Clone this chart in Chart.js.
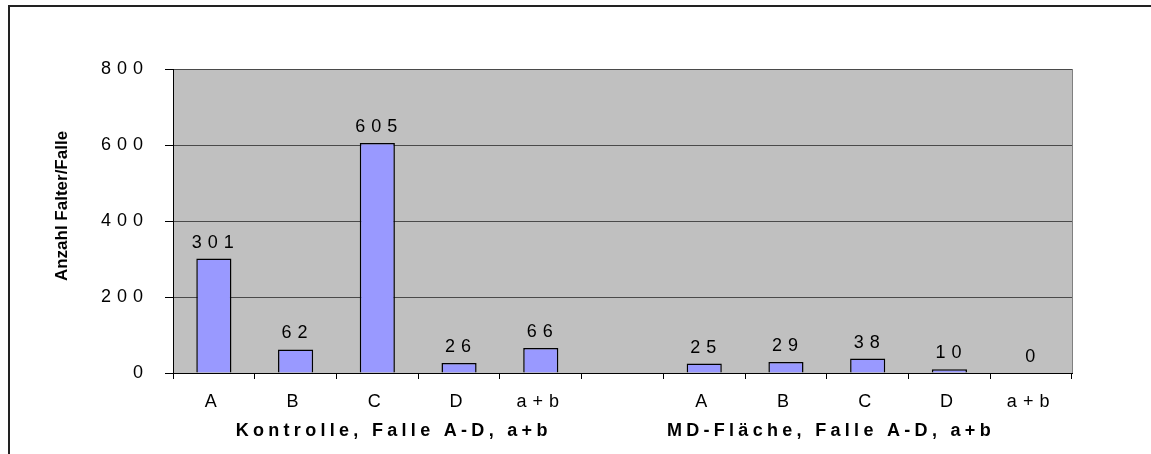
<!DOCTYPE html>
<html>
<head>
<meta charset="utf-8">
<script src="https://cdn.jsdelivr.net/npm/chart.js@4"></script>
<style>
  html, body { margin: 0; padding: 0; background: #fff; overflow: hidden; }
  #wrap { position: relative; width: 1151px; height: 454px; }
  #frame { position: absolute; left: 8px; top: 5px; width: 1200px; height: 500px;
           border: 2px solid #222; box-sizing: border-box; pointer-events: none; }
</style>
</head>
<body>
<div id="wrap">
  <canvas id="myChart-bar" width="1151" height="454"></canvas>
  <div id="frame"></div>
</div>
<script>
var categories = ['A', 'B', 'C', 'D', 'a+b', '', 'A', 'B', 'C', 'D', 'a+b'];
var counts = [301, 62, 605, 26, 66, null, 25, 29, 38, 10, 0];
var yTicks = [0, 200, 400, 600, 800];
var groupTitles = ['Kontrolle, Falle A-D, a+b', 'MD-Fläche, Falle A-D, a+b'];
var yTitle = 'Anzahl Falter/Falle';

var FONT = '"Liberation Sans", Arial, sans-serif';
var SP = 6; // wide Excel-like letter spacing

var spacing = {
    id: 'spacing',
    beforeLayout: function (chart) { chart.ctx.letterSpacing = SP + 'px'; },
    beforeDraw: function (chart) {
        var ctx = chart.ctx, a = chart.chartArea;
        ctx.letterSpacing = SP + 'px';
        ctx.save();
        ctx.fillStyle = '#c0c0c0';
        ctx.fillRect(a.left, a.top, a.right - a.left, a.bottom - a.top);
        ctx.strokeStyle = '#808080';
        ctx.lineWidth = 1;
        ctx.beginPath();
        ctx.moveTo(a.right + 0.5, a.top);
        ctx.lineTo(a.right + 0.5, a.bottom);
        ctx.stroke();
        ctx.restore();
    }
};

var labels = {
    id: 'labels',
    afterDatasetsDraw: function (chart) {
        var ctx = chart.ctx;
        var meta = chart.getDatasetMeta(0);
        ctx.save();
        ctx.letterSpacing = SP + 'px';
        ctx.font = '18px ' + FONT;
        ctx.fillStyle = '#000';
        ctx.textAlign = 'center';
        ctx.textBaseline = 'alphabetic';
        meta.data.forEach(function (bar, i) {
            if (counts[i] === null) return;
            ctx.fillText(String(counts[i]), bar.x + SP / 2 - 1, bar.y - 11);
        });
        ctx.restore();
    },
    afterDraw: function (chart) {
        var ctx = chart.ctx, x = chart.scales.x;
        ctx.save();
        // group titles under the category labels
        ctx.font = 'bold 18px ' + FONT;
        ctx.letterSpacing = '4.3px';
        ctx.fillStyle = '#000';
        ctx.textAlign = 'center';
        ctx.textBaseline = 'middle';
        ctx.fillText(groupTitles[0], x.getPixelForValue(2.2), 431);
        ctx.fillText(groupTitles[1], x.getPixelForValue(7.55), 431);
        // y axis title
        ctx.letterSpacing = '0px';
        ctx.font = 'bold 17px ' + FONT;
        ctx.translate(62, 206);
        ctx.rotate(-Math.PI / 2);
        ctx.fillText(yTitle, 0, 0);
        ctx.restore();
    }
};

var ctx = document.getElementById('myChart-bar');

new Chart(ctx, {
    type: 'bar',
    data: {
        labels: categories,
        datasets: [{
            data: counts,
            backgroundColor: '#9999ff',
            borderColor: '#000',
            borderWidth: 1.5,
            barPercentage: 0.43,
            categoryPercentage: 1
        }]
    },
    options: {
        responsive: false,
        animation: false,
        layout: { padding: { left: 0, right: 79, top: 69, bottom: 0 } },
        plugins: { legend: { display: false }, tooltip: { enabled: false } },
        scales: {
            x: {
                grid: { drawOnChartArea: false, color: '#000', tickLength: 6 },
                border: { color: '#000', width: 1 },
                ticks: { color: '#000', font: { family: FONT, size: 18 }, padding: 12, maxRotation: 0, autoSkip: false },
                afterFit: function (s) { s.height = 81; }
            },
            y: {
                min: yTicks[0],
                max: yTicks[yTicks.length - 1],
                afterBuildTicks: function (s) { s.ticks = yTicks.map(function (v) { return { value: v }; }); },
                grid: { color: '#4a4a4a', tickColor: '#000', tickLength: 8 },
                border: { color: '#000', width: 1 },
                ticks: { color: '#000', font: { family: FONT, size: 18 }, padding: 16 },
                afterFit: function (s) { s.width = 173; }
            }
        }
    },
    plugins: [spacing, labels]
});
</script>
</body>
</html>
